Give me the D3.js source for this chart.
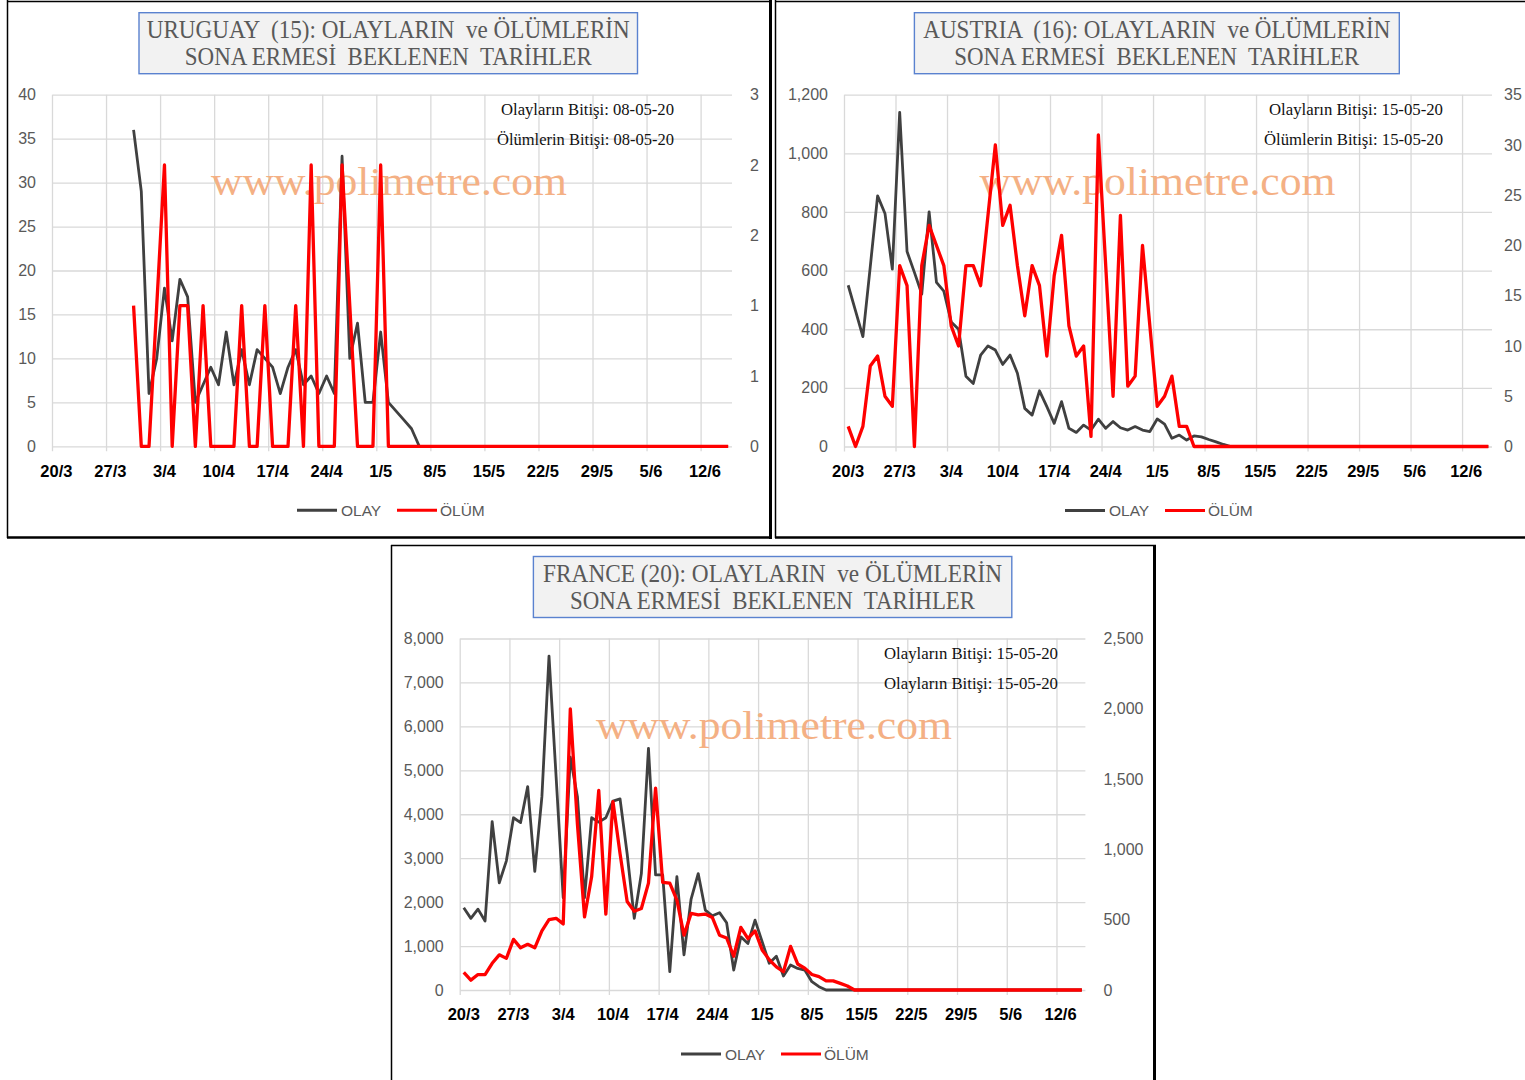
<!DOCTYPE html>
<html>
<head>
<meta charset="utf-8">
<script src="https://cdn.jsdelivr.net/npm/d3@7"></script>
<style>
  body { margin: 0; background: #fff; }
  .sans { font-family: "Liberation Sans", Arial, sans-serif; }
  .serif { font-family: "Liberation Serif", "Times New Roman", serif; white-space: pre; }
</style>
</head>
<body>
<div id="chart"></div>
<script>
// one slot per day, 20/3 .. 15/6
var days = d3.range(88);
var tickDays = [0, 7, 14, 21, 28, 35, 42, 49, 56, 63, 70, 77, 84];
var tickLabels = ["20/3","27/3","3/4","10/4","17/4","24/4","1/5","8/5","15/5","22/5","29/5","5/6","12/6"];

var uruguayOlay = [null,null,null,null,null,null,null,null,null,null,
  36,29,6,10,18,12,19,17,5,7,
  9,7,13,7,11,7,11,10,9,6,
  9,11,7,8,6,8,6,33,10,14,
  5,5,13,5,4,3,2,0,0,0,
  0,0,0,0,0,0,0,0,0,0,0,0,0,0,0,0,0,0,0,0,
  0,0,0,0,0,0,0,0,0,0,0,0,0,0,0,0,0,0];
var uruguayOlum = [null,null,null,null,null,null,null,null,null,null,
  1,0,0,1,2,0,1,1,0,1,
  0,0,0,0,1,0,0,1,0,0,
  0,1,0,2,0,0,0,2,1,0,
  0,0,2,0,0,0,0,0,0,0,
  0,0,0,0,0,0,0,0,0,0,0,0,0,0,0,0,0,0,0,0,
  0,0,0,0,0,0,0,0,0,0,0,0,0,0,0,0,0,0];

var austriaOlay = [550,463,375,613,855,795,605,1140,665,594,
  520,800,560,530,425,400,240,215,312,343,
  329,280,312,250,130,107,190,136,79,153,
  62,48,73,56,93,62,85,64,56,68,
  56,51,94,76,28,39,22,36,33,24,
  16,7,0,0,0,0,0,0,0,0,0,0,0,0,0,0,0,0,0,0,
  0,0,0,0,0,0,0,0,0,0,0,0,0,0,0,0,0,0];
var austriaOlum = [2,0,2,8,9,5,4,18,16,0,
  18,22,20,18,12,10,18,18,16,23,
  30,22,24,18,13,18,16,9,17,21,
  12,9,10,1,31,18,5,23,6,7,
  20,12,4,5,7,2,2,0,0,0,
  0,0,0,0,0,0,0,0,0,0,0,0,0,0,0,0,0,0,0,0,
  0,0,0,0,0,0,0,0,0,0,0,0,0,0,0,0,0,0];

var franceOlay = [1870,1630,1840,1570,3830,2440,2940,3920,3810,4630,
  2700,4400,7600,4850,2100,5300,4400,2100,3920,3820,
  3920,4300,4350,3100,1630,2650,5500,2620,2620,420,
  2580,800,2070,2650,1820,1690,1760,1530,455,1210,
  1060,1590,1100,610,770,320,570,490,455,190,
  75,0,0,0,0,0,0,0,0,0,0,0,0,0,0,0,0,0,0,0,
  0,0,0,0,0,0,0,0,0,0,0,0,0,0,0,0,0,0];
var franceOlum = [125,70,110,110,190,250,225,360,300,325,
  300,420,500,510,470,2000,1180,520,805,1420,
  540,1340,970,630,560,580,760,1435,765,760,
  640,390,545,535,540,515,390,370,240,445,
  365,420,285,215,165,130,310,185,155,110,
  95,65,65,47,28,0,0,0,0,0,0,0,0,0,0,0,0,0,0,0,
  0,0,0,0,0,0,0,0,0,0,0,0,0,0,0,0,0,0];

var uruguayLeftTicks = [0,5,10,15,20,25,30,35,40];
var uruguayLeftLabels = ["0","5","10","15","20","25","30","35","40"];
var uruguayRightTicks = [0,0.5,1,1.5,2,2.5];
var uruguayRightLabels = ["0","1","1","2","2","3"];
var austriaLeftTicks = [0,200,400,600,800,1000,1200];
var austriaLeftLabels = ["0","200","400","600","800","1,000","1,200"];
var austriaRightTicks = [0,5,10,15,20,25,30,35];
var austriaRightLabels = ["0","5","10","15","20","25","30","35"];
var franceLeftTicks = [0,1000,2000,3000,4000,5000,6000,7000,8000];
var franceLeftLabels = ["0","1,000","2,000","3,000","4,000","5,000","6,000","7,000","8,000"];
var franceRightTicks = [0,500,1000,1500,2000,2500];
var franceRightLabels = ["0","500","1,000","1,500","2,000","2,500"];

var svg = d3.select("#chart").append("svg")
  .attr("width", 1525)
  .attr("height", 1080);

var charts = [
  { title1: "URUGUAY  (15): OLAYLARIN  ve ÖLÜMLERİN", title2: "SONA ERMESİ  BEKLENEN  TARİHLER",
    w1: 483, w2: 407, box: [139, 637.5],
    note1: "Olayların Bitişi: 08-05-20", note2: "Ölümlerin Bitişi: 08-05-20", noteRight: 674, nw: [173, 177],
    olay: uruguayOlay, olum: uruguayOlum,
    lt: uruguayLeftTicks, ll: uruguayLeftLabels, lmax: 40,
    rt: uruguayRightTicks, rl: uruguayRightLabels, rmax: 2.5, rpad: 18,
    plot: { l: 52.5, r: 732, t: 94.7, b: 446.3 }, wm: 389, legend: 297 },
  { title1: "AUSTRIA  (16): OLAYLARIN  ve ÖLÜMLERİN", title2: "SONA ERMESİ  BEKLENEN  TARİHLER",
    w1: 467, w2: 405, box: [914.4, 1399.3],
    note1: "Olayların Bitişi: 15-05-20", note2: "Ölümlerin Bitişi: 15-05-20", noteRight: 1443, nw: [174, 179],
    olay: austriaOlay, olum: austriaOlum,
    lt: austriaLeftTicks, ll: austriaLeftLabels, lmax: 1200,
    rt: austriaRightTicks, rl: austriaRightLabels, rmax: 35, rpad: 12,
    plot: { l: 844.5, r: 1492, t: 94.7, b: 446.5 }, wm: 1157.5, legend: 1065 },
  { title1: "FRANCE (20): OLAYLARIN  ve ÖLÜMLERİN", title2: "SONA ERMESİ  BEKLENEN  TARİHLER",
    w1: 459, w2: 405, box: [533.4, 1011.8],
    note1: "Olayların Bitişi: 15-05-20", note2: "Olayların Bitişi: 15-05-20", noteRight: 1058, nw: [174, 174],
    olay: franceOlay, olum: franceOlum,
    lt: franceLeftTicks, ll: franceLeftLabels, lmax: 8000,
    rt: franceRightTicks, rl: franceRightLabels, rmax: 2500, rpad: 18,
    plot: { l: 460.2, r: 1085.4, t: 638.5, b: 990 }, wm: 774, legend: 681 }
];

// panel frames
function frameLine(x1, y1, x2, y2, w) {
  svg.append("line").attr("x1", x1).attr("y1", y1).attr("x2", x2).attr("y2", y2)
    .attr("stroke", "#000").attr("stroke-width", w);
}
frameLine(7.5, 0, 7.5, 538, 1.5);
frameLine(7, 1.5, 771, 1.5, 1.5);
frameLine(770.5, 0, 770.5, 539, 3);
frameLine(7, 537.5, 772, 537.5, 2.5);
frameLine(775.5, 0, 775.5, 538, 1.5);
frameLine(775, 1.5, 1525, 1.5, 1.5);
frameLine(775, 537.5, 1525, 537.5, 2.5);
frameLine(391.5, 545, 391.5, 1080, 1.5);
frameLine(391, 545.5, 1156, 545.5, 1.5);
frameLine(1154.5, 545, 1154.5, 1080, 3);

charts.forEach(draw);

function draw(c) {
  var p = c.plot;
  var g = svg.append("g");

  var x = d3.scaleBand().domain(days).range([p.l, p.r]);
  var bw = x.bandwidth();
  var y = d3.scaleLinear().domain([0, c.lmax]).range([p.b, p.t]);
  var y2 = d3.scaleLinear().domain([0, c.rmax]).range([p.b, p.t]);

  // title box
  var bx = c.box[0], bwid = c.box[1] - c.box[0], cx = (c.box[0] + c.box[1]) / 2;
  g.append("rect")
    .attr("x", bx).attr("y", p.t - 82).attr("width", bwid).attr("height", 61)
    .attr("fill", "#f2f2f2").attr("stroke", "#5a82cf").attr("stroke-width", 1.4);
  [[c.title1, c.w1, p.t - 57], [c.title2, c.w2, p.t - 29.5]].forEach(function(t) {
    g.append("text").attr("class", "serif")
      .attr("xml:space", "preserve")
      .attr("x", cx - t[1] / 2).attr("y", t[2])
      .attr("textLength", t[1]).attr("lengthAdjust", "spacingAndGlyphs")
      .attr("font-size", 25).attr("fill", "#595959")
      .text(t[0]);
  });

  // horizontal grid + left labels
  g.append("g")
    .attr("transform", "translate(" + p.l + ",0)")
    .call(d3.axisLeft(y).tickValues(c.lt).tickSize(-(p.r - p.l)).tickPadding(16.5)
      .tickFormat(function(d, i) { return c.ll[i]; }))
    .call(function(a) {
      a.select(".domain").remove();
      a.selectAll("line").attr("stroke", "#d9d9d9").attr("stroke-width", 1.3);
      a.selectAll("text").attr("class", "sans").attr("font-size", 16).attr("fill", "#595959");
    });

  // vertical grid, every 7 days, with small ticks below the axis
  g.append("g").selectAll("line")
    .data(tickDays)
    .join("line")
    .attr("x1", function(d) { return x(d); })
    .attr("x2", function(d) { return x(d); })
    .attr("y1", p.t).attr("y2", p.b + 5)
    .attr("stroke", "#d9d9d9").attr("stroke-width", 1.3);

  // right labels
  g.append("g")
    .attr("transform", "translate(" + p.r + ",0)")
    .call(d3.axisRight(y2).tickValues(c.rt).tickSize(0).tickPadding(c.rpad)
      .tickFormat(function(d, i) { return c.rl[i]; }))
    .call(function(a) {
      a.select(".domain").remove();
      a.selectAll("text").attr("class", "sans").attr("font-size", 16).attr("fill", "#595959");
    });

  // date labels
  g.append("g")
    .attr("transform", "translate(0," + p.b + ")")
    .call(d3.axisBottom(x).tickValues(tickDays).tickSize(0).tickPadding(18.5)
      .tickFormat(function(d, i) { return tickLabels[i]; }))
    .call(function(a) {
      a.select(".domain").remove();
      a.selectAll("text").attr("class", "sans").attr("font-size", 16.5)
        .attr("font-weight", "bold").attr("fill", "#000");
    });

  // watermark
  g.append("text").attr("class", "serif")
    .attr("x", c.wm - 178).attr("y", p.t + 100)
    .attr("textLength", 356).attr("lengthAdjust", "spacingAndGlyphs")
    .attr("font-size", 41).attr("fill", "#f4b084")
    .text("www.polimetre.com");

  // end-date notes
  [[c.note1, c.nw[0], p.t + 20.5], [c.note2, c.nw[1], p.t + 50.5]].forEach(function(t) {
    g.append("text").attr("class", "serif")
      .attr("x", c.noteRight - t[1]).attr("y", t[2])
      .attr("textLength", t[1]).attr("lengthAdjust", "spacingAndGlyphs")
      .attr("font-size", 17).attr("fill", "#111")
      .text(t[0]);
  });

  var lineL = d3.line()
    .defined(function(d) { return d != null; })
    .x(function(d, i) { return x(i) + bw / 2; })
    .y(function(d) { return y(d); });
  var lineR = d3.line()
    .defined(function(d) { return d != null; })
    .x(function(d, i) { return x(i) + bw / 2; })
    .y(function(d) { return y2(d); });

  g.append("path").datum(c.olay)
    .attr("d", lineL).attr("fill", "none")
    .attr("stroke", "#404040").attr("stroke-width", 2.8).attr("stroke-linejoin", "round");
  g.append("path").datum(c.olum)
    .attr("d", lineR).attr("fill", "none")
    .attr("stroke", "#ff0000").attr("stroke-width", 3.3).attr("stroke-linejoin", "round");

  // legend
  var ly = p.b + 64, L = c.legend;
  g.append("line").attr("x1", L).attr("x2", L + 40).attr("y1", ly).attr("y2", ly)
    .attr("stroke", "#404040").attr("stroke-width", 3);
  g.append("text").attr("class", "sans").attr("x", L + 44).attr("y", ly + 5.5)
    .attr("font-size", 15.5).attr("fill", "#595959").text("OLAY");
  g.append("line").attr("x1", L + 100).attr("x2", L + 140).attr("y1", ly).attr("y2", ly)
    .attr("stroke", "#ff0000").attr("stroke-width", 3);
  g.append("text").attr("class", "sans").attr("x", L + 143).attr("y", ly + 5.5)
    .attr("font-size", 15.5).attr("fill", "#595959").text("ÖLÜM");
}
</script>
</body>
</html>
